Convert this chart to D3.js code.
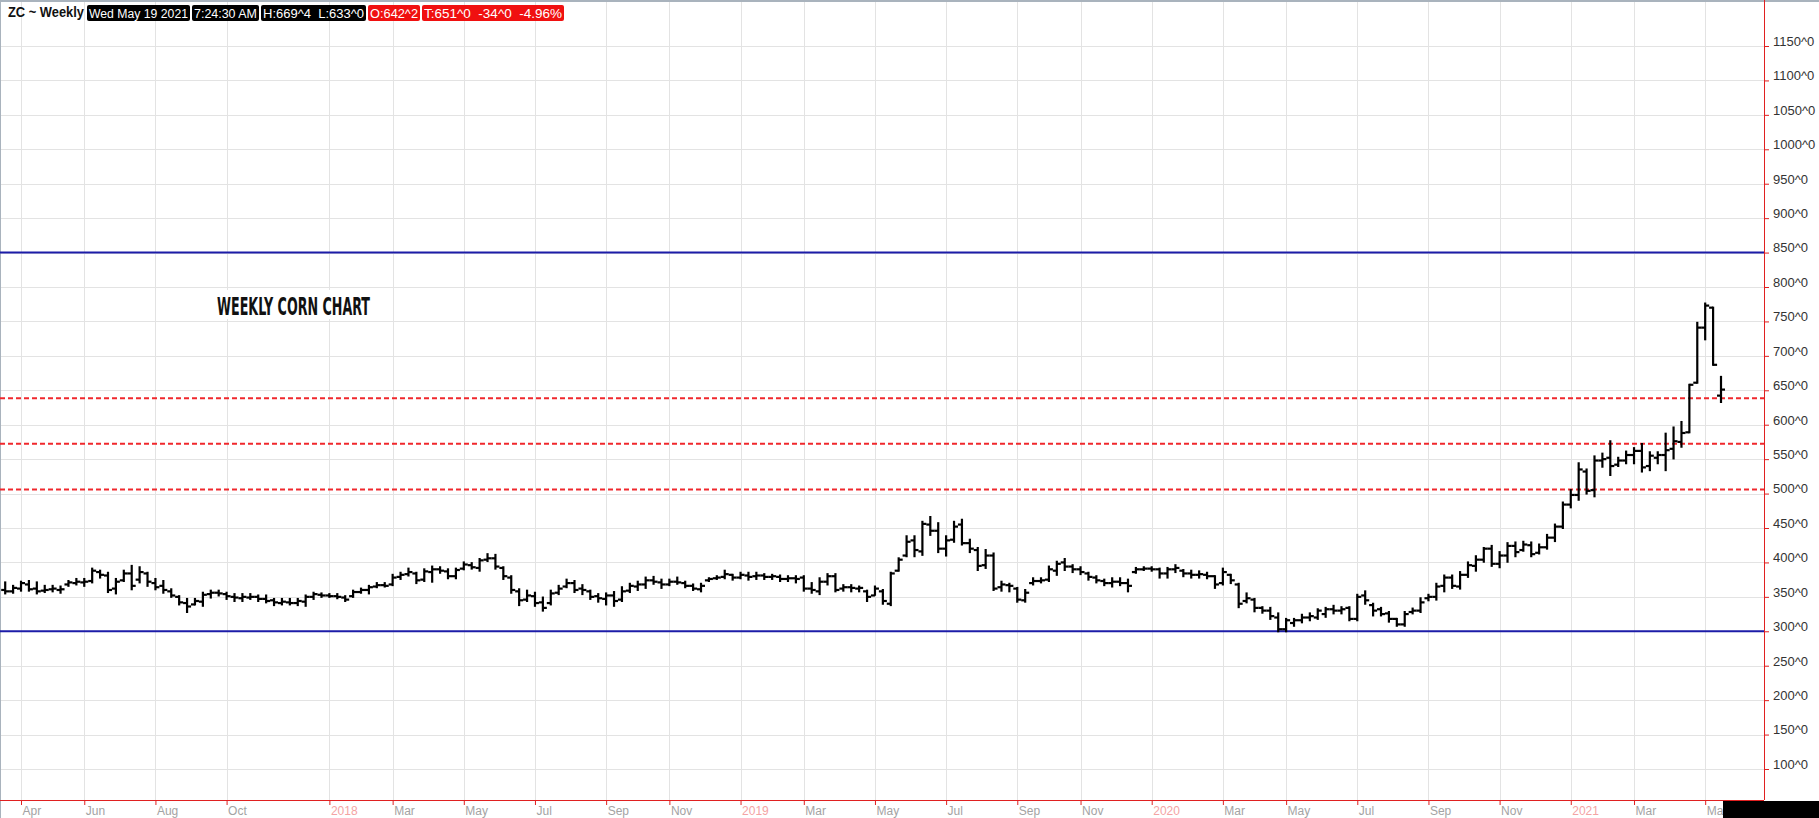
<!DOCTYPE html>
<html>
<head>
<meta charset="utf-8">
<script src="https://cdn.jsdelivr.net/npm/d3@7"></script>
<style>
  body { margin: 0; background: #fff; }
  svg { display: block; }
  text { font-family: "Liberation Sans", Arial, sans-serif; }
</style>
</head>
<body>
<svg id="chart" width="1819" height="818"></svg>
<script>
// weekly ZC bars, first week starts Mon 2017-03-20
const firstWeek = "2017-03-20";

const opens = [
  360,358,362,368,362,359,361,360,368,370, 371,373,386,381,362,374,384,375,384,370,
  366,358,350,341,339,343,354,356,354,350, 348,349,350,347,345,341,342,341,343,350,
  353,352,351,349,351,357,360,365,367,368, 379,383,384,375,386,390,387,380,391,396,
  392,404,406,392,378,358,346,351,342,341, 356,365,370,362,358,351,347,352,346,359,
  365,368,374,371,368,372,370,366,361,374, 377,379,382,378,381,380,381,379,379,376,
  377,378,362,358,372,380,362,364,362,358, 352,358,340,388,410,432,416,455,446,420,
  433,455,428,418,396,410,364,367,362,345, 370,373,375,388,400,394,390,384,378,373,
  370,372,370,386,390,391,390,384,390,388, 384,382,382,380,370,382,368,344,346,334,
  330,320,303,312,316,320,320,325,332,330, 334,318,352,338,332,326,318,310,328,330,
  348,350,366,378,365,382,395,404,420,398, 410,424,418,425,414,422,436,452,484,498,
  532,505,548,552,542,548,556,562,540,552, 556,565,575,589,661,741,770,642.25
];
const highs = [
  371,366,372,373,371,366,366,365,373,376, 376,391,388,385,376,388,395,393,385,376,
  373,361,351,347,347,356,359,359,356,354, 354,354,352,352,347,347,347,347,352,356,
  355,354,354,351,359,362,366,370,370,382, 385,391,385,390,394,393,390,391,400,399,
  405,412,411,393,380,361,359,356,349,359, 366,375,373,367,359,354,355,357,364,369,
  372,378,379,375,375,378,372,368,369,377, 380,388,382,385,385,385,383,382,381,380,
  380,380,370,377,383,383,367,367,365,359, 365,360,385,406,438,438,459,466,457,438,
  459,462,433,421,418,413,372,369,363,360, 377,377,394,401,405,396,393,385,380,375,
  377,377,375,392,393,393,391,392,396,389, 388,387,385,380,391,382,369,355,347,335,
  334,326,318,318,324,326,332,334,337,335, 335,353,358,340,334,328,318,328,333,348,
  353,369,381,381,386,400,409,421,424,415, 428,429,430,429,426,440,455,487,505,544,
  535,554,558,576,552,561,566,572,560,560, 587,596,604,658,748,776,770,669.5
];
const lows = [
  355,356,359,359,355,357,358,356,366,368, 366,371,378,357,355,373,361,371,366,361,
  356,350,339,328,339,337,349,352,347,344, 344,347,344,342,338,339,339,338,337,347,
  350,350,348,344,350,356,355,364,365,367, 376,381,370,373,372,385,377,377,390,391,
  388,402,391,376,356,338,344,337,330,339, 354,364,357,354,347,343,339,337,344,357,
  360,363,369,363,367,369,364,360,358,373, 376,377,375,377,375,376,376,376,373,373,
  371,359,356,354,368,358,359,358,358,344, 353,340,338,388,409,409,411,440,415,410,
  430,426,415,389,392,360,359,358,343,343, 368,371,373,382,389,386,383,375,371,367,
  365,367,358,385,389,388,378,378,386,380, 378,378,377,363,368,370,335,342,329,327,
  318,300,300,308,313,316,318,321,326,326, 316,316,340,323,323,314,308,308,326,328,
  345,346,358,363,362,379,388,401,395,393, 401,409,417,409,413,420,431,450,480,491,
  500,496,539,527,540,544,544,532,534,544, 534,551,568,589,661,724,687,633
];
const closes = [
  358,363,370,361,358,360,362,361,371,372, 372,388,382,360,372,384,366,386,372,364,
  360,352,342,336,344,353,356,355,351,349, 350,350,347,344,342,343,341,344,350,354,
  352,351,350,346,357,360,364,367,366,378, 382,386,374,387,390,388,380,389,397,393,
  403,406,394,380,360,345,352,341,334,355, 362,370,360,360,350,348,352,344,358,366,
  368,374,372,368,372,371,366,362,366,376, 378,383,378,382,379,381,379,380,376,377,
  376,362,360,372,380,360,364,363,363,350, 362,344,384,404,430,418,456,446,420,432,
  452,428,420,395,410,362,368,366,346,356, 373,374,390,398,394,390,386,379,374,370,
  372,370,366,390,391,390,384,390,392,384, 382,383,380,368,386,374,340,348,334,330,
  322,303,316,316,320,322,330,332,330,332, 318,350,345,330,325,318,310,325,330,342,
  350,365,378,366,382,396,404,420,398,410, 424,415,426,412,422,436,452,484,498,535,
  504,548,550,540,548,556,562,538,555,556, 563,576,588,658,741,773,687,651
];

// x-axis labels (week bar where each label sits)
const tickDates = [
  "2017-04-03","2017-05-29","2017-07-31","2017-10-02","2018-01-01","2018-02-26",
  "2018-04-30","2018-07-02","2018-09-03","2018-10-29","2018-12-31","2019-02-25",
  "2019-04-29","2019-07-01","2019-09-02","2019-10-28","2019-12-30","2020-03-02",
  "2020-04-27","2020-06-29","2020-08-31","2020-11-02","2021-01-04","2021-03-01",
  "2021-05-03"
];
const tickLabels = [
  "Apr","Jun","Aug","Oct","2018","Mar","May","Jul","Sep","Nov","2019","Mar",
  "May","Jul","Sep","Nov","2020","Mar","May","Jul","Sep","Nov","2021","Mar","May"
];

const priceTicks = d3.range(100, 1151, 50);
const supportLines = [300, 850];        // solid blue
const dashedLevels = [506, 572.5, 638.5]; // red dashed

const headerBoxes = [
  { text: "Wed May 19 2021", fill: "#000" },
  { text: "7:24:30 AM", fill: "#000" },
  { text: "H:669^4  L:633^0", fill: "#000" },
  { text: "O:642^2", fill: "#f01010" },
  { text: "T:651^0  -34^0  -4.96%", fill: "#f01010" }
];
const headerBoxX = [[87, 190], [192, 259], [261, 366], [368, 420], [422, 564]];

const parse = d3.utcParse("%Y-%m-%d");
const start = parse(firstWeek);
const bars = opens.map((o, i) => ({
  date: d3.utcMonday.offset(start, i),
  o, h: highs[i], l: lows[i], c: closes[i]
}));

const svg = d3.select("#chart");
const axisX = 1764, axisY = 800;

const x = d3.scaleUtc()
  .domain([start, bars[bars.length - 1].date])
  .range([5.2, 1721]);

const y = d3.scaleLinear()
  .domain([100, 1150])
  .range([769, 46]);

const labelOf = new Map(tickDates.map((d, i) => [+parse(d), tickLabels[i]]));

// grid
svg.append("g")
  .selectAll("line")
  .data(priceTicks)
  .join("line")
  .attr("x1", 0).attr("x2", axisX)
  .attr("y1", d => Math.round(y(d)) + 0.5)
  .attr("y2", d => Math.round(y(d)) + 0.5)
  .attr("stroke", "#e3e3e3");

svg.append("g")
  .selectAll("line")
  .data(tickDates.map(parse))
  .join("line")
  .attr("x1", d => Math.round(x(d)) + 0.5)
  .attr("x2", d => Math.round(x(d)) + 0.5)
  .attr("y1", 0).attr("y2", axisY)
  .attr("stroke", "#e3e3e3");

// frame borders
svg.append("line").attr("x1", 0).attr("x2", 1819).attr("y1", 1).attr("y2", 1)
  .attr("stroke", "#a9b3bd").attr("stroke-width", 2);
svg.append("line").attr("x1", 0.5).attr("x2", 0.5).attr("y1", 0).attr("y2", 818)
  .attr("stroke", "#a9b3bd");

// white patch behind the title text
svg.append("rect").attr("x", 203).attr("y", 290).attr("width", 186).attr("height", 29)
  .attr("fill", "#fff");
svg.append("text")
  .attr("x", 217).attr("y", 315)
  .attr("textLength", 153).attr("lengthAdjust", "spacingAndGlyphs")
  .style("font-family", "'Liberation Sans Narrow', 'DejaVu Sans Condensed', sans-serif")
  .style("font-weight", "bold")
  .style("font-size", "24px")
  .attr("fill", "#111")
  .text("WEEKLY CORN CHART");

// level lines
svg.append("g")
  .selectAll("line")
  .data(supportLines)
  .join("line")
  .attr("x1", 0).attr("x2", axisX)
  .attr("y1", d => y(d)).attr("y2", d => y(d))
  .attr("stroke", "#1c1ca8").attr("stroke-width", 2);

svg.append("g")
  .selectAll("line")
  .data(dashedLevels)
  .join("line")
  .attr("x1", 0).attr("x2", axisX)
  .attr("y1", d => y(d)).attr("y2", d => y(d))
  .attr("stroke", "#f0282d").attr("stroke-width", 2)
  .attr("stroke-dasharray", "5,3");

// OHLC bars
const barG = svg.append("g")
  .attr("stroke", "#000").attr("stroke-width", 2.2);

const bar = barG.selectAll("g").data(bars).join("g");
bar.append("line")
  .attr("x1", d => x(d.date)).attr("x2", d => x(d.date))
  .attr("y1", d => y(d.h) - 1).attr("y2", d => y(d.l) + 1);
bar.append("line")
  .attr("x1", d => x(d.date) - 4).attr("x2", d => x(d.date))
  .attr("y1", d => y(d.o)).attr("y2", d => y(d.o));
bar.append("line")
  .attr("x1", d => x(d.date)).attr("x2", d => x(d.date) + 4)
  .attr("y1", d => y(d.c)).attr("y2", d => y(d.c));

// bottom axis
const gx = svg.append("g")
  .attr("transform", `translate(0,${axisY})`)
  .call(d3.axisBottom(x)
    .tickValues(tickDates.map(parse))
    .tickSize(5)
    .tickFormat(d => labelOf.get(+d)));
gx.select(".domain").attr("stroke", "#e02020").attr("d", `M0,0.5H${axisX}`);
gx.selectAll(".tick line").attr("stroke", "#e02020");
gx.selectAll(".tick text")
  .attr("text-anchor", "start")
  .attr("x", 1).attr("y", 6).attr("dy", "0.71em")
  .style("font-size", "12px")
  .attr("fill", d => /^\d/.test(labelOf.get(+d)) ? "#f4a3a3" : "#a3a3a3");

// right price axis
const gy = svg.append("g")
  .attr("transform", `translate(${axisX},0)`)
  .call(d3.axisRight(y)
    .tickValues(priceTicks)
    .tickSize(5)
    .tickFormat(d => d + "^0"));
gy.select(".domain").attr("stroke", "#e02020").attr("d", `M0.5,0V${axisY}`);
gy.selectAll(".tick line").attr("stroke", "#e02020");
gy.selectAll(".tick text")
  .attr("x", 9).attr("dy", "-0.05em")
  .style("font-size", "13px")
  .attr("fill", "#333");

// bottom-right black box
svg.append("rect").attr("x", 1723).attr("y", 801).attr("width", 96).attr("height", 17)
  .attr("fill", "#000");

// header
svg.append("text")
  .attr("x", 8).attr("y", 17)
  .attr("textLength", 76).attr("lengthAdjust", "spacingAndGlyphs")
  .style("font-size", "14px").style("font-weight", "bold")
  .attr("fill", "#111")
  .text("ZC ~ Weekly");

const hb = svg.append("g").selectAll("g").data(headerBoxes).join("g");
hb.append("rect")
  .attr("x", (d, i) => headerBoxX[i][0]).attr("y", 5)
  .attr("width", (d, i) => headerBoxX[i][1] - headerBoxX[i][0]).attr("height", 16)
  .attr("rx", 2)
  .attr("fill", d => d.fill);
hb.append("text")
  .attr("x", (d, i) => headerBoxX[i][0] + 2).attr("y", 17.5)
  .attr("textLength", (d, i) => headerBoxX[i][1] - headerBoxX[i][0] - 4)
  .attr("lengthAdjust", "spacingAndGlyphs")
  .style("font-size", "12.5px").style("white-space", "pre")
  .attr("fill", "#fff")
  .text(d => d.text);
</script>
</body>
</html>
